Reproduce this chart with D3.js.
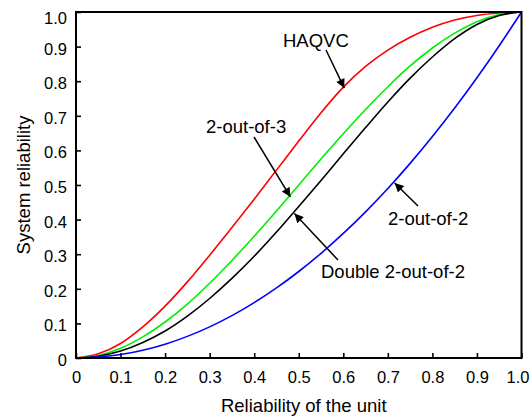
<!DOCTYPE html>
<html>
<head>
<meta charset="utf-8">
<script src="https://cdnjs.cloudflare.com/ajax/libs/d3/7.8.5/d3.min.js"></script>
<style>
body { margin: 0; background: #fff; }
svg { font-family: "Liberation Sans", Arial, sans-serif; }
</style>
</head>
<body>
<svg id="chart" width="532" height="417"></svg>
<script>
// reliability of the unit (x)
var unitRel = [0, 0.05, 0.1, 0.15, 0.2, 0.25, 0.3, 0.35, 0.4, 0.45, 0.5, 0.55, 0.6, 0.65, 0.7, 0.75, 0.8, 0.85, 0.9, 0.95, 1.0];

// system reliability
var haqvc      = [0, 0.012, 0.042, 0.09, 0.15, 0.22, 0.297, 0.377, 0.459, 0.543, 0.627, 0.709, 0.783, 0.843, 0.89, 0.927, 0.956, 0.977, 0.99, 0.997, 1.0];
var twoOf3     = [0, 0.007, 0.028, 0.061, 0.104, 0.156, 0.216, 0.282, 0.352, 0.425, 0.50, 0.575, 0.648, 0.718, 0.784, 0.844, 0.896, 0.939, 0.972, 0.993, 1.0];
var double2of2 = [0, 0.005, 0.020, 0.045, 0.078, 0.121, 0.172, 0.230, 0.294, 0.364, 0.438, 0.513, 0.590, 0.666, 0.740, 0.809, 0.870, 0.923, 0.964, 0.990, 1.0];
var twoOf2     = [0, 0.0025, 0.01, 0.0225, 0.04, 0.0625, 0.09, 0.1225, 0.16, 0.2025, 0.25, 0.3025, 0.36, 0.4225, 0.49, 0.5625, 0.64, 0.7225, 0.81, 0.9025, 1.0];

var tickVals = [0, 0.1, 0.2, 0.3, 0.4, 0.5, 0.6, 0.7, 0.8, 0.9, 1.0];

var series = [
  { name: 'HAQVC', vals: haqvc, color: '#ff0000' },
  { name: '2-out-of-3', vals: twoOf3, color: '#00ee00' },
  { name: 'Double 2-out-of-2', vals: double2of2, color: '#000000' },
  { name: '2-out-of-2', vals: twoOf2, color: '#0000ff' }
];

var svg = d3.select('#chart');
var pLeft = 76, pRight = 521.5, pTop = 12, pBottom = 358;

var x = d3.scaleLinear().domain([0, 1]).range([pLeft, pRight]);
var y = d3.scaleLinear().domain([0, 1]).range([pBottom, pTop]);

var fmt = function(d) { return d === 0 ? '0' : d3.format('.1f')(d); };

// curves
var line = d3.line()
  .curve(d3.curveMonotoneX)
  .x(function(d) { return x(d[0]); })
  .y(function(d) { return y(d[1]); });

series.forEach(function(s) {
  svg.append('path')
    .datum(unitRel.map(function(r, i) { return [r, s.vals[i]]; }))
    .attr('fill', 'none')
    .attr('stroke', s.color)
    .attr('stroke-width', 1.6)
    .attr('d', line);
});

// frame
svg.append('rect')
  .attr('x', pLeft).attr('y', pTop)
  .attr('width', pRight - pLeft).attr('height', pBottom - pTop)
  .attr('fill', 'none').attr('stroke', '#000').attr('stroke-width', 2);

var gx = svg.append('g')
  .attr('transform', 'translate(0,' + pBottom + ')')
  .call(d3.axisBottom(x).tickValues(tickVals).tickSize(-5).tickSizeOuter(0).tickFormat(fmt));
gx.attr('font-size', 16.5).attr('font-family', null);
gx.select('.domain').remove();
gx.selectAll('line').attr('stroke-width', 1.6);
gx.selectAll('text')
  .attr('y', 25).attr('dy', 0)
  .attr('dx', function(d) { return d === 1 ? -4 : 0; });

var gy = svg.append('g')
  .attr('transform', 'translate(' + pLeft + ',0)')
  .call(d3.axisLeft(y).tickValues(tickVals).tickSize(-5).tickSizeOuter(0).tickFormat(fmt));
gy.attr('font-size', 16.5).attr('font-family', null);
gy.select('.domain').remove();
gy.selectAll('line').attr('stroke-width', 1.6);
gy.selectAll('text')
  .attr('x', -9)
  .attr('dy', function(d) { return d === 1 ? '0.72em' : '0.45em'; });

// axis titles
svg.append('text')
  .attr('x', (pLeft + pRight) / 2 + 5).attr('y', 412)
  .attr('text-anchor', 'middle')
  .attr('font-size', 18.5)
  .text('Reliability of the unit');

svg.append('text')
  .attr('transform', 'translate(30,' + ((pTop + pBottom) / 2) + ') rotate(-90)')
  .attr('text-anchor', 'middle')
  .attr('font-size', 18.5)
  .text('System reliability');

// arrow marker
svg.append('defs').append('marker')
  .attr('id', 'arr')
  .attr('viewBox', '0 0 10 10')
  .attr('refX', 10).attr('refY', 5)
  .attr('markerWidth', 12).attr('markerHeight', 9)
  .attr('markerUnits', 'userSpaceOnUse')
  .attr('orient', 'auto')
  .append('path').attr('d', 'M0,0 L10,5 L0,10 Z').attr('fill', '#000');

// annotations: label position, arrow tail, and the unit reliability the arrow points at
var arrows = [
  { text: 'HAQVC', tx: 283, ty: 47, fx: 326, fy: 50, r: 0.600, sv: haqvc },
  { text: '2-out-of-3', tx: 206, ty: 133, fx: 254, fy: 137, r: 0.479, sv: twoOf3 },
  { text: 'Double 2-out-of-2', tx: 321, ty: 278, fx: 338, fy: 260, r: 0.488, sv: double2of2 },
  { text: '2-out-of-2', tx: 388, ty: 225, fx: 418, fy: 206, r: 0.713, sv: twoOf2 }
];

function interp(vals, r) {
  var i = Math.min(Math.floor(r / 0.05), unitRel.length - 2);
  var t = (r - unitRel[i]) / (unitRel[i + 1] - unitRel[i]);
  return vals[i] + t * (vals[i + 1] - vals[i]);
}

arrows.forEach(function(a) {
  svg.append('text')
    .attr('x', a.tx).attr('y', a.ty)
    .attr('font-size', 18.5)
    .text(a.text);
  svg.append('line')
    .attr('x1', a.fx).attr('y1', a.fy)
    .attr('x2', x(a.r) + 1).attr('y2', y(interp(a.sv, a.r)) + 1)
    .attr('stroke', '#000').attr('stroke-width', 1.5)
    .attr('marker-end', 'url(#arr)');
});
</script>
</body>
</html>
